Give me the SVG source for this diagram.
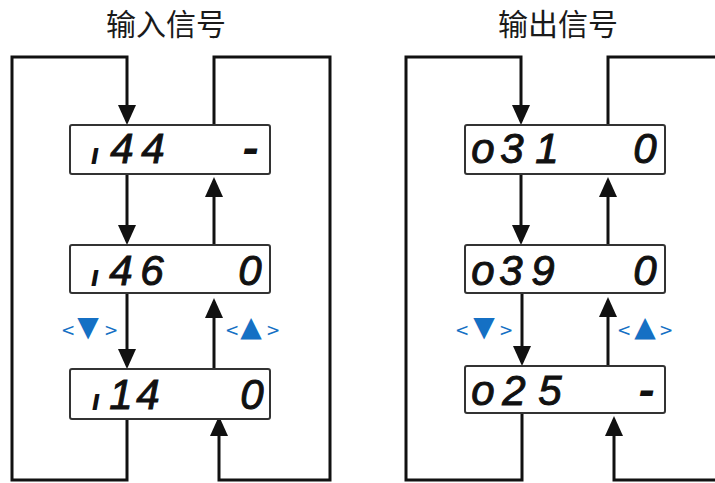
<svg xmlns="http://www.w3.org/2000/svg" width="715" height="483" viewBox="0 0 715 483">
<defs>
<style>
.title{font-family:"Noto Sans CJK SC","Noto Sans",sans-serif;font-size:30px;fill:#1a1a1a;text-anchor:middle}
.box{fill:#fff;stroke:#333;stroke-width:2}
.seg{font-family:"Liberation Sans",Arial,sans-serif;font-style:italic;font-size:42px;fill:#111;stroke:#111;stroke-width:1;text-anchor:middle}
.small{font-family:"DejaVu Sans",sans-serif;font-size:24px;stroke-width:2}
.dash{stroke-width:2.2}
.key{font-family:"DejaVu Sans",sans-serif;font-size:17px;fill:#1570c4;text-anchor:middle}
.tri{font-size:28px}
.ln{fill:none;stroke:#111;stroke-width:3;stroke-linejoin:miter}
</style>
<marker id="ah" viewBox="0 0 20 18" refX="16" refY="9" markerWidth="20" markerHeight="18" markerUnits="userSpaceOnUse" orient="auto">
<path d="M0,0 L20,9 L0,18 z" fill="#111"/>
</marker>
</defs>

<text class="title" x="166" y="35">输入信号</text>
<text class="title" x="558" y="35">输出信号</text>

<g id="connectors">
<path class="ln" d="M127,419 V480 H12 V57 H127 V121" marker-end="url(#ah)"/>
<path class="ln" d="M214,125 V57 H330 V480 H219 V420" marker-end="url(#ah)"/>
<path class="ln" d="M127,174 V241" marker-end="url(#ah)"/>
<path class="ln" d="M214,245 V181" marker-end="url(#ah)"/>
<path class="ln" d="M127,293 V365" marker-end="url(#ah)"/>
<path class="ln" d="M214,369 V302" marker-end="url(#ah)"/>

<path class="ln" d="M522,413 V480 H406 V57 H521 V121" marker-end="url(#ah)"/>
<path class="ln" d="M608,125 V57 H720"/>
<path class="ln" d="M720,480 H614 V420" marker-end="url(#ah)"/>
<path class="ln" d="M521,174 V241" marker-end="url(#ah)"/>
<path class="ln" d="M608,245 V181" marker-end="url(#ah)"/>
<path class="ln" d="M522,293 V362" marker-end="url(#ah)"/>
<path class="ln" d="M608,366 V301" marker-end="url(#ah)"/>
</g>

<g id="in1">
<rect class="box" x="70" y="125" width="200" height="49" rx="2"/>
<text class="seg" y="163"><tspan class="small" x="95">ı</tspan><tspan x="122 153">44</tspan><tspan class="dash" x="250">-</tspan></text>
</g>
<g id="in2">
<rect class="box" x="70" y="245" width="200" height="48" rx="2"/>
<text class="seg" y="285"><tspan class="small" x="95">ı</tspan><tspan x="121 152">46</tspan><tspan x="250">0</tspan></text>
</g>
<g id="in3">
<rect class="box" x="70" y="369" width="200" height="50" rx="2"/>
<text class="seg" y="409"><tspan class="small" x="96">ı</tspan><tspan x="121 148">14</tspan><tspan x="252">0</tspan></text>
</g>

<g id="out1">
<rect class="box" x="465" y="125" width="200" height="49" rx="2"/>
<text class="seg" y="163"><tspan x="483 512 547">o31</tspan><tspan x="645">0</tspan></text>
</g>
<g id="out2">
<rect class="box" x="465" y="245" width="200" height="48" rx="2"/>
<text class="seg" y="285"><tspan x="483 511 543">o39</tspan><tspan x="645">0</tspan></text>
</g>
<g id="out3">
<rect class="box" x="465" y="366" width="200" height="47" rx="2"/>
<text class="seg" y="405"><tspan x="483 514 550">o25</tspan><tspan class="dash" x="646">-</tspan></text>
</g>

<g id="keys">
<text class="key" y="336"><tspan x="68">&lt;</tspan><tspan class="tri" x="88">▼</tspan><tspan x="111">&gt;</tspan></text>
<text class="key" y="336"><tspan x="232">&lt;</tspan><tspan class="tri" x="251">▲</tspan><tspan x="273">&gt;</tspan></text>
<text class="key" y="336"><tspan x="462">&lt;</tspan><tspan class="tri" x="484">▼</tspan><tspan x="506">&gt;</tspan></text>
<text class="key" y="336"><tspan x="624">&lt;</tspan><tspan class="tri" x="645">▲</tspan><tspan x="666">&gt;</tspan></text>
</g>
</svg>
